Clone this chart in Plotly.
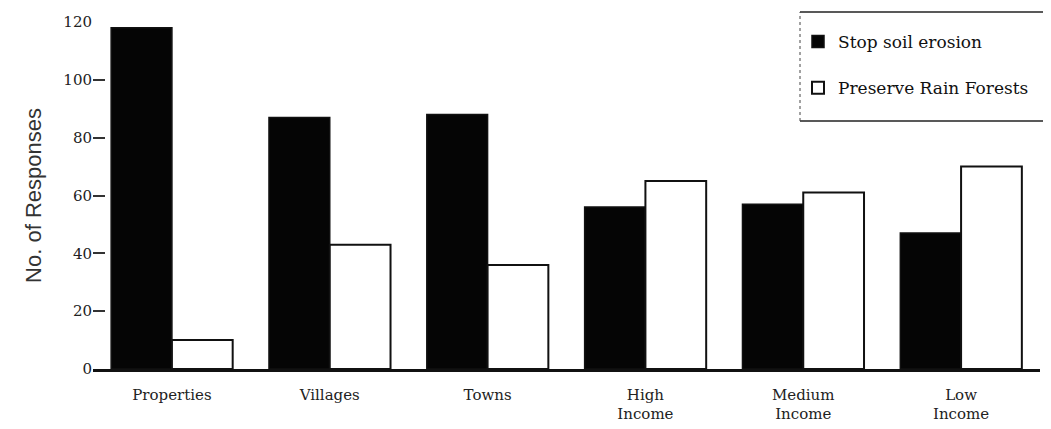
import plotly.graph_objects as go

categories = ["Properties", "Villages", "Towns", "High<br>Income", "Medium<br>Income", "Low<br>Income"]
stop_soil_erosion = [118, 87, 88, 56, 57, 47]
preserve_rain_forests = [10, 43, 36, 65, 61, 70]
y_ticks = [0, 20, 40, 60, 80, 100, 120]

serif = "DejaVu Serif"

fig = go.Figure()
fig.add_trace(go.Bar(
    x=categories, y=stop_soil_erosion, name="Stop soil erosion",
    marker=dict(color="#050505", line=dict(color="#111", width=1.5)),
    legendgroup="a",
))
fig.add_trace(go.Bar(
    x=categories, y=preserve_rain_forests, name="Preserve Rain Forests",
    marker=dict(color="white", line=dict(color="#111", width=2)),
    legendgroup="b",
))

W, H = 1051, 429
OFF = 8  # page offset of the figure inside the browser window
ML, MR, MT, MB = 85, 19, 14, 68
pw, ph = W - ML - MR, H - MT - MB

def px_x(sx):
    return (sx - OFF - ML) / pw

def px_y(sy):
    return (H - MB - (sy - OFF)) / ph

box_line = dict(color="#222", width=1.5)
bx0, bx1, by0, by1 = px_x(800), px_x(1070), px_y(121), px_y(12)

fig.update_layout(
    width=W, height=H,
    margin=dict(l=ML, r=MR, t=MT, b=MB, autoexpand=False),
    paper_bgcolor="white", plot_bgcolor="white",
    barmode="group", bargap=0.23, bargroupgap=0,
    font=dict(family=serif, size=15, color="#222"),
    legend=dict(
        x=px_x(798), y=px_y(24), xanchor="left", yanchor="top",
        borderwidth=0, bgcolor="rgba(0,0,0,0)",
        font=dict(family=serif, size=17, color="#111"),
        tracegroupgap=21, traceorder="grouped",
    ),
    showlegend=True,
    shapes=[
        dict(type="line", xref="paper", yref="paper", x0=bx0, x1=bx1, y0=by1, y1=by1, line=box_line),
        dict(type="line", xref="paper", yref="paper", x0=bx0, x1=bx1, y0=by0, y1=by0, line=box_line),
        dict(type="line", xref="paper", yref="paper", x0=bx0, x1=bx0, y0=by0, y1=by1,
             line=dict(color="#444", width=1, dash="dot")),
    ],
)
fig.update_xaxes(
    range=[-0.5, 5.5], showline=True, linecolor="#111", linewidth=2.5,
    ticks="", tickfont=dict(family=serif, size=15, color="#222"),
    ticklabelstandoff=10,
    showgrid=False, automargin=False,
)
fig.update_yaxes(
    range=[0, 120], tickvals=y_ticks, ticks="inside", ticklen=12, tickwidth=1.5,
    tickcolor="#333", showline=False, showgrid=False, zeroline=False,
    tickfont=dict(family=serif, size=15, color="#222"), automargin=False,
    title=dict(text="No. of Responses", font=dict(family="Liberation Sans, Arial, sans-serif", size=22, color="#333")),
)

fig.write_html("out.html")
